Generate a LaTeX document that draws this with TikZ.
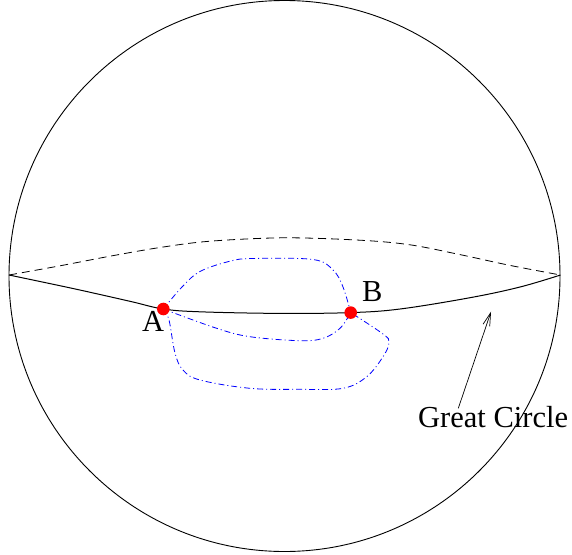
\documentclass[tikz,border=0pt]{standalone}
\usepackage{fontspec}
\setmainfont{Liberation Serif}
\usetikzlibrary{arrows.meta}
\tikzset{
  sphere/.style={line width=0.9pt, black},
  front/.style={line width=1pt, black},
  back/.style={line width=0.8pt, black, dash pattern=on 8pt off 5pt},
  geo/.style={line width=0.8pt, blue, dash pattern=on 6pt off 3pt on 1pt off 3pt},
  pt/.style={circle, fill=red, inner sep=0pt, minimum size=12.6pt},
  lbl/.style={font=\fontsize{30.5}{33}\selectfont, inner sep=0pt},
  pointer/.style={line width=0.7pt, -{Straight Barb[length=13pt,width=7pt,line width=0.7pt]}}
}
\begin{document}
\begin{tikzpicture}[x=1pt,y=-1pt]
\useasboundingbox (0,0) rectangle (572,554);
% sphere outline
\coordinate (O) at (284.5,276);
\draw[sphere] (O) circle[radius=275.5];
% great circle end points
\coordinate (L) at (9,275);
\coordinate (R) at (560.5,275);
\coordinate (A) at (163.3,309);
\coordinate (B) at (350.7,312.6);
% back (dashed) half
\draw[back] plot[smooth, tension=0.55] coordinates {(L) (60,265.8) (110,256.2) (160,247.5) (210,241.2) (284,237.8) (360,240.2) (410,244.8) (460,254.6) (510,265.4) (R)};
% front (solid) half
\draw[front] plot[smooth, tension=0.6] coordinates {(L) (66,287) (100,294.5) (133,302) (A) (200,311.8) (280,313.4) (B) (400,309) (470,297.7) (520,287) (R)};
% geodesic-like paths
\draw[geo] plot[smooth, tension=0.6] coordinates {(A) (182,287) (200,271.5) (230,261.2) (253,258.5) (313,259.5) (333,270) (343,287) (B)};
\draw[geo] plot[smooth, tension=0.6] coordinates {(A) (216.7,328.3) (250,336.7) (300,340.7) (323,338.3) (340,328.3) (B)};
\draw[geo] plot[smooth, tension=0.6] coordinates {(A) (169,320) (175,353) (183,370) (200,380) (250,388.3) (300,389.3) (343,388.3) (366.7,376.7) (383,356.7) (389,342.5) (383,334) (B)};
% points
\node[pt] (dotA) at (A) {};
\node[pt] (dotB) at (B) {};
\node[lbl, anchor=base west] (labA) at (142,331) {A};
\node[lbl, anchor=base west] (labB) at (362,301.5) {B};
% label and pointer
\node[lbl, anchor=base west] (gc) at (418,427) {Great Circle};
\coordinate (tail) at (458.3,408.3);
\coordinate (tip) at (491,311.7);
\draw[pointer] (tail) -- (tip);
\end{tikzpicture}
\end{document}
